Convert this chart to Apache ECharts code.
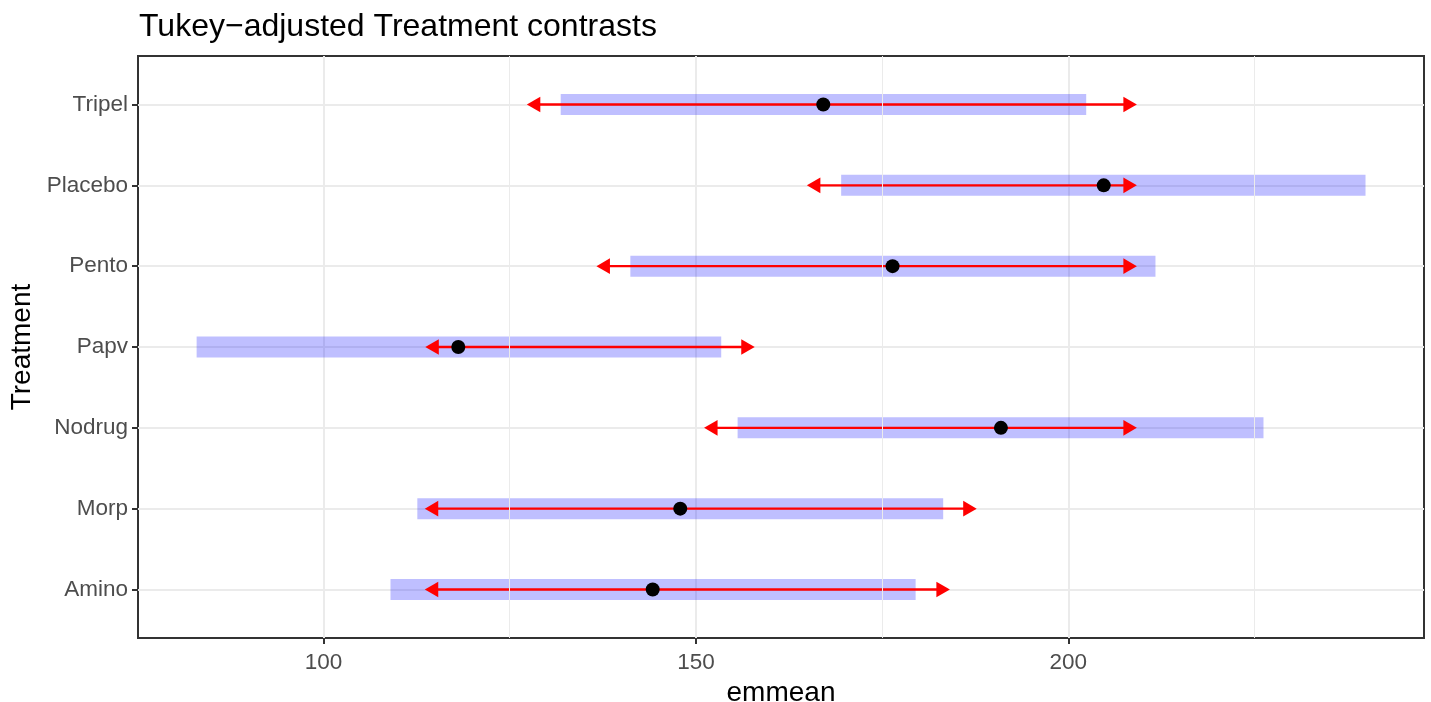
<!DOCTYPE html>
<html>
<head>
<meta charset="utf-8">
<script src="https://cdn.jsdelivr.net/npm/echarts@6/dist/echarts.min.js"></script>
<style>
  html, body { margin: 0; padding: 0; background: #fff; }
  #chart { width: 1431px; height: 702px; }
</style>
</head>
<body>
<div id="chart"></div>
<script>
// Treatments (bottom to top)
const categories = ['Amino', 'Morp', 'Nodrug', 'Papv', 'Pento', 'Placebo', 'Tripel'];
// Estimated marginal means
const emmean = [144.2, 147.9, 190.95, 118.1, 176.4, 204.75, 167.1];
// Confidence interval bounds (blue bars)
const ciLow  = [109.0, 112.6, 155.6, 82.97, 141.2, 169.5, 131.85];
const ciHigh = [179.5, 183.2, 226.2, 153.4, 211.7, 239.9, 202.4];
// Comparison arrow ends (red arrows)
const arrowLow  = [113.6, 113.6, 151.1, 113.67, 136.65, 164.9, 127.3];
const arrowHigh = [184.1, 187.7, 209.2, 157.9, 209.2, 209.2, 209.2];
// Axis ticks
const xMajorTicks = [100, 150, 200];
const xMinorTicks = [125, 175, 225];
const yTicks = categories.map((c, i) => i + 1);

const FONT = '"Liberation Sans", Arial, Helvetica, sans-serif';

const chart = echarts.init(document.getElementById('chart'), null, { renderer: 'canvas' });

const ciData = categories.map((c, i) => [ciLow[i], ciHigh[i], i + 1]);
const arrowData = categories.map((c, i) => [arrowLow[i], arrowHigh[i], i + 1]);
const pointData = categories.map((c, i) => [emmean[i], i + 1]);

const option = {
  backgroundColor: '#ffffff',
  animation: false,
  title: {
    text: 'Tukey\u2212adjusted Treatment contrasts',
    left: 134,
    top: 6,
    textStyle: { fontFamily: FONT, fontSize: 32, fontWeight: 'normal', color: '#000000' }
  },
  grid: {
    left: 138, right: 7, top: 56, bottom: 64,
    outerBoundsMode: 'none',
    containLabel: false,
    show: true, borderColor: '#333333', borderWidth: 2, backgroundColor: 'transparent'
  },
  xAxis: {
    type: 'value',
    min: 75.1,
    max: 247.75,
    name: 'emmean',
    nameLocation: 'middle',
    nameGap: 40,
    nameTextStyle: { fontFamily: FONT, fontSize: 28, color: '#000000' },
    axisLine: { show: false },
    axisTick: { show: true, customValues: xMajorTicks, length: 6, lineStyle: { color: '#333333', width: 2 } },
    axisLabel: { customValues: xMajorTicks, fontFamily: FONT, fontSize: 22.5, color: '#4D4D4D', margin: 13 },
    splitLine: { show: true, lineStyle: { color: '#EBEBEB', width: 2 } }
  },
  yAxis: {
    type: 'value',
    min: 0.4,
    max: 7.6,
    name: 'Treatment',
    nameLocation: 'middle',
    nameGap: 99,
    nameRotate: 90,
    nameTextStyle: { fontFamily: FONT, fontSize: 28, color: '#000000' },
    axisLine: { show: false },
    axisTick: { show: true, customValues: yTicks, length: 6, lineStyle: { color: '#333333', width: 2 } },
    axisLabel: {
      customValues: yTicks,
      fontFamily: FONT, fontSize: 22.5, color: '#4D4D4D', margin: 10,
      formatter: v => categories[Math.round(v) - 1] || ''
    },
    splitLine: { show: true, lineStyle: { color: '#EBEBEB', width: 2 } }
  },
  series: [
    {
      name: 'minorGrid',
      type: 'scatter',
      data: [],
      silent: true,
      z: 0,
      markLine: {
        silent: true,
        symbol: ['none', 'none'],
        label: { show: false },
        lineStyle: { color: '#EBEBEB', width: 1, type: 'solid' },
        emphasis: { disabled: true },
        data: xMinorTicks.map(v => ({ xAxis: v }))
      }
    },
    {
      name: 'ci',
      type: 'custom',
      z: 2,
      silent: true,
      data: ciData,
      encode: { x: [0, 1], y: 2 },
      renderItem: function (params, api) {
        const y = api.value(2);
        const p1 = api.coord([api.value(0), y]);
        const p2 = api.coord([api.value(1), y]);
        const h = api.size([0, 0.26])[1];
        return {
          type: 'rect',
          shape: { x: p1[0], y: p1[1] - h / 2, width: p2[0] - p1[0], height: h },
          style: { fill: 'rgba(0,0,255,0.25)' }
        };
      }
    },
    {
      name: 'arrows',
      type: 'custom',
      z: 3,
      silent: true,
      data: arrowData,
      encode: { x: [0, 1], y: 2 },
      renderItem: function (params, api) {
        const y = api.value(2);
        const a = api.coord([api.value(0), y]);
        const b = api.coord([api.value(1), y]);
        const L = 13.5, W = 7.8;
        return {
          type: 'group',
          children: [
            {
              type: 'line',
              shape: { x1: a[0] + L - 1, y1: a[1], x2: b[0] - L + 1, y2: b[1] },
              style: { stroke: '#FF0000', lineWidth: 2.3 }
            },
            {
              type: 'polygon',
              shape: { points: [[a[0], a[1]], [a[0] + L, a[1] - W], [a[0] + L, a[1] + W]] },
              style: { fill: '#FF0000' }
            },
            {
              type: 'polygon',
              shape: { points: [[b[0], b[1]], [b[0] - L, b[1] - W], [b[0] - L, b[1] + W]] },
              style: { fill: '#FF0000' }
            }
          ]
        };
      }
    },
    {
      name: 'emmean',
      type: 'scatter',
      z: 4,
      silent: true,
      data: pointData,
      symbol: 'circle',
      symbolSize: 14,
      itemStyle: { color: '#000000', opacity: 1 }
    }
  ]
};

chart.setOption(option);
</script>
</body>
</html>
